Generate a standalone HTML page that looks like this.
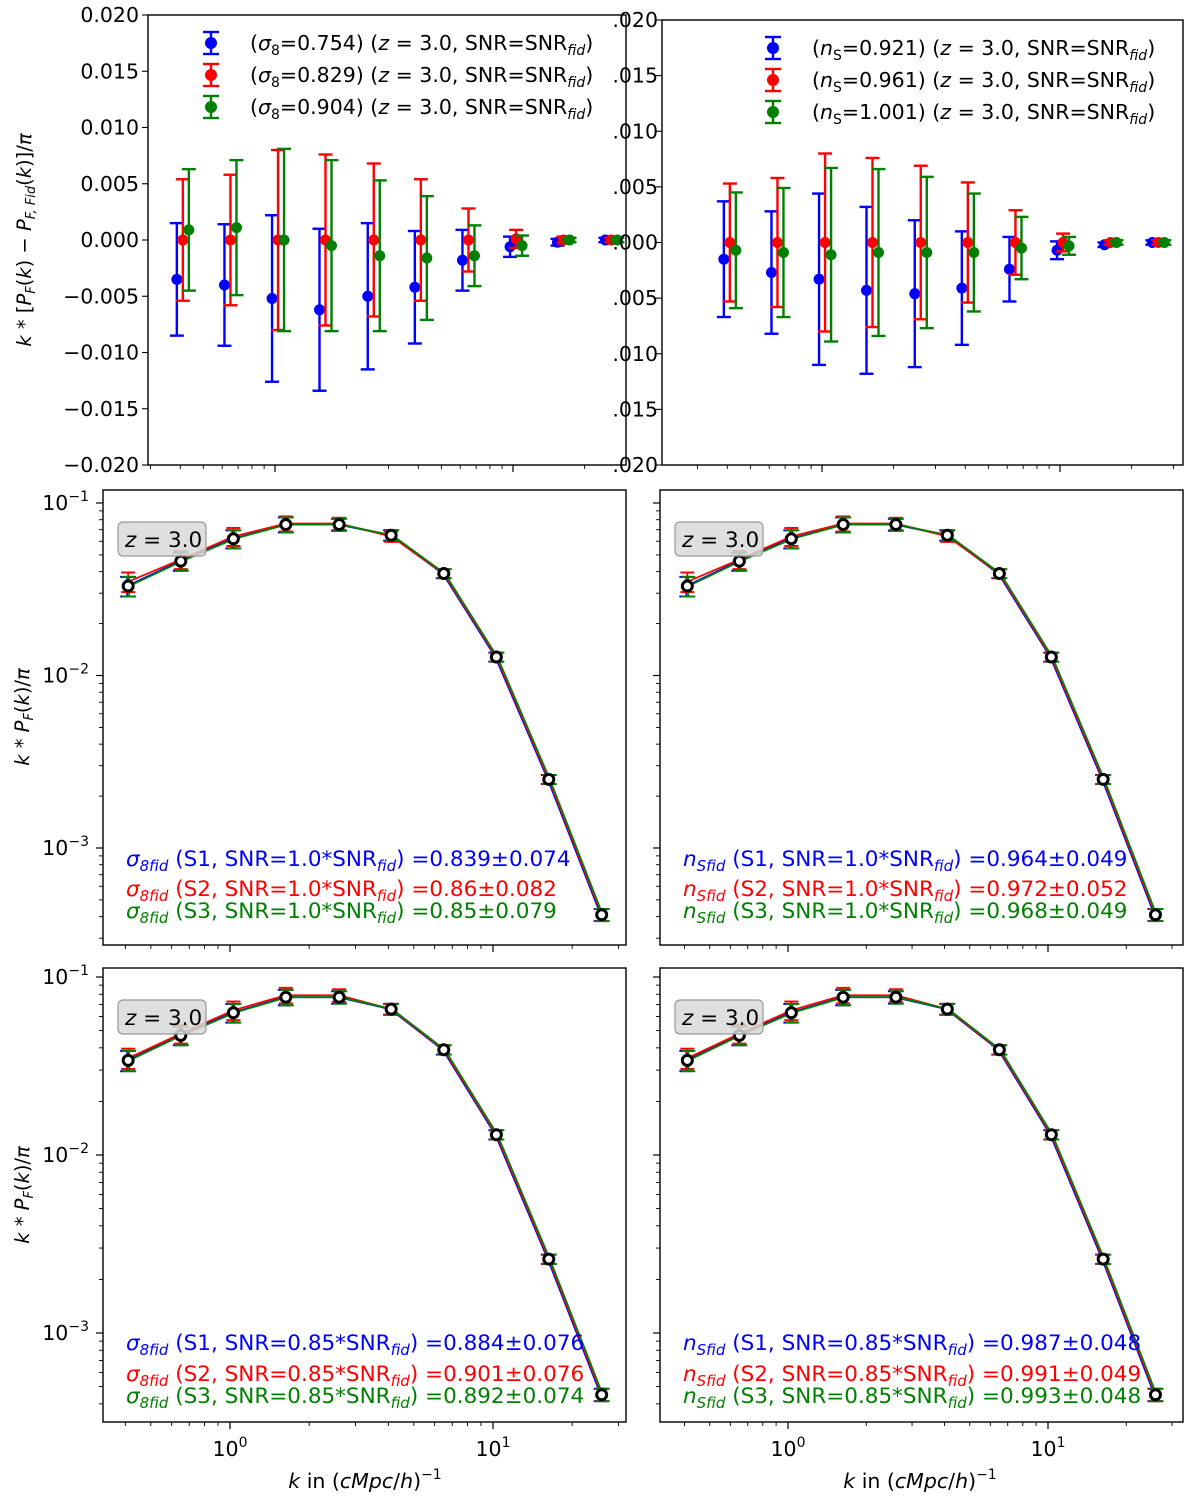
<!DOCTYPE html>
<html><head><meta charset="utf-8"><style>
body{margin:0;background:#fff;}
svg{display:block;font-family:"DejaVu Sans","Liberation Sans",sans-serif;}
</style></head><body>
<svg id="fig" width="1200" height="1503" viewBox="0 0 1200 1503" xmlns="http://www.w3.org/2000/svg">
</svg>
<script>
// ---- data ----
const kVals = [0.41,0.65,1.03,1.63,2.6,4.1,6.5,10.3,16.3,25.9];
const diffS8Blue  = [-0.0035,-0.0040,-0.0052,-0.0062,-0.0050,-0.0042,-0.0018,-0.0006,-0.0002,0];
const diffS8BlueErr = [0.0050,0.0054,0.0074,0.0072,0.0065,0.0050,0.0027,0.0009,0.0003,0.0002];
const diffS8Red   = [0,0,0,0,0,0,0,0.0001,0,0];
const diffS8RedErr = [0.0054,0.0058,0.0080,0.0076,0.0068,0.0054,0.0028,0.0008,0.0003,0.0002];
const diffS8Green = [0.0009,0.0011,0,-0.0005,-0.0014,-0.0016,-0.0014,-0.0005,0,0];
const diffS8GreenErr = [0.0054,0.0060,0.0081,0.0076,0.0067,0.0055,0.0027,0.0009,0.0002,0.0002];
const diffNsBlue  = [-0.0015,-0.0027,-0.0033,-0.0043,-0.0046,-0.0041,-0.0024,-0.0007,-0.0002,0];
const diffNsBlueErr = [0.0052,0.0055,0.0077,0.0075,0.0066,0.0051,0.0029,0.0008,0.0002,0.0002];
const diffNsRed   = [0,0,0,0,0,0,0,0,0,0];
const diffNsRedErr = [0.0053,0.0058,0.0080,0.0076,0.0069,0.0054,0.0029,0.0008,0.0002,0.0002];
const diffNsGreen = [-0.0007,-0.0009,-0.0011,-0.0009,-0.0009,-0.0009,-0.0005,-0.0003,0,0];
const diffNsGreenErr = [0.0052,0.0058,0.0078,0.0075,0.0068,0.0053,0.0028,0.0008,0.0002,0.0002];
const pkMid = [0.033,0.046,0.062,0.075,0.075,0.065,0.039,0.0128,0.0025,0.00041];
const pkMidRed = [0.035,0.047,0.064,0.076,0.076,0.064,0.039,0.0128,0.0025,0.00041];
const pkBot = [0.034,0.047,0.063,0.077,0.077,0.066,0.039,0.013,0.0026,0.00045];
const pkBotRed = [0.035,0.048,0.065,0.079,0.079,0.066,0.039,0.013,0.0026,0.00045];
const pkRelErr = [0.13,0.12,0.12,0.1,0.08,0.07,0.06,0.06,0.06,0.08];
const diffTicks = [0.020,0.015,0.010,0.005,0.000,-0.005,-0.010,-0.015,-0.020];
const midTextS8 = ["(S1, SNR=1.0*SNR","(S2, SNR=1.0*SNR","(S3, SNR=1.0*SNR"];
const midValS8 = ["=0.839±0.074","=0.86±0.082","=0.85±0.079"];
const midValNs = ["=0.964±0.049","=0.972±0.052","=0.968±0.049"];
const botTextS8 = ["(S1, SNR=0.85*SNR","(S2, SNR=0.85*SNR","(S3, SNR=0.85*SNR"];
const botValS8 = ["=0.884±0.076","=0.901±0.076","=0.892±0.074"];
const botValNs = ["=0.987±0.048","=0.991±0.049","=0.993±0.048"];
const legS8 = ["0.754","0.829","0.904"];
const legNs = ["0.921","0.961","1.001"];

const C = ["#0000ff","#ff0000","#008000"];
const svg = document.getElementById('fig');
const NS = "http://www.w3.org/2000/svg";
function el(tag, attrs, parent){const e=document.createElementNS(NS,tag);for(const k in attrs)e.setAttribute(k,attrs[k]);(parent||svg).appendChild(e);return e;}

function makeX(x0, pxPerDec){return k => x0 + pxPerDec*Math.log10(k);}
function xTicks(g, xs, L, R, B){
  for(let d=-1; d<=1; d++){
    for(let m=1;m<=9;m++){
      const v=m*Math.pow(10,d); const x=xs(v);
      if(x<L||x>R) continue;
      el('line',{x1:x,x2:x,y1:B,y2:B+(m===1?7:4),stroke:'#000','stroke-width':m===1?1.2:0.9},g);
    }
  }
}
function frame(g,L,T,R,B){el('rect',{x:L,y:T,width:R-L,height:B-T,fill:'none',stroke:'#000','stroke-width':1.4},g);}

// ---- top diff panels ----
function diffPanel(name,L,T,R,B,x0,dec,blue,be,red,re,green,ge,showLabels,leg,legX,legY,sym){
  const g=el('g',{});
  
  
  const xs=makeX(x0,dec);
  const y0=(T+B)/2, sc=(B-T)/0.04;
  const ys=v=>y0 - v*sc;
  frame(g,L,T,R,B);
  diffTicks.forEach(t=>{
    const y=ys(t);
    el('line',{x1:L-6,x2:L,y1:y,y2:y,stroke:'#000','stroke-width':1.1},g);
    let s=t.toFixed(3).replace('-','−');
    if(!showLabels) s=s.replace('−','').replace(/^0/,'');
    const tx=el('text',{x:showLabels?L-9:L-4,y:y+7,'text-anchor':'end','font-size':20.5},g);
    tx.textContent=s;
  });
  xTicks(g,xs,L,R,B);
  const series=[[blue,be,-6],[red,re,0],[green,ge,6]];
  series.forEach((s,si)=>{
    kVals.forEach((k,i)=>{
      const x=xs(k)+s[2], yv=ys(s[0][i]), yt=ys(s[0][i]+s[1][i]), yb=ys(s[0][i]-s[1][i]);
      const eb=el('line',{x1:x,x2:x,y1:yt,y2:yb,stroke:C[si],'stroke-width':2.4},g);
      
      
      el('line',{x1:x-7,x2:x+7,y1:yt,y2:yt,stroke:C[si],'stroke-width':2.4},g);
      el('line',{x1:x-7,x2:x+7,y1:yb,y2:yb,stroke:C[si],'stroke-width':2.4},g);
      const p=el('circle',{cx:x,cy:yv,r:5.5,fill:C[si]},g);
      
      
    });
  });
  leg.forEach((v,i)=>{
    const y=legY+i*32;
    const lg=el('g',{},g);
    
    
    el('line',{x1:legX,x2:legX,y1:y-11,y2:y+11,stroke:C[i],'stroke-width':2.4},lg);
    el('line',{x1:legX-8,x2:legX+8,y1:y-11,y2:y-11,stroke:C[i],'stroke-width':2.4},lg);
    el('line',{x1:legX-8,x2:legX+8,y1:y+11,y2:y+11,stroke:C[i],'stroke-width':2.4},lg);
    el('circle',{cx:legX,cy:y,r:6,fill:C[i]},lg);
    const t=el('text',{x:legX+39,y:y+7,'font-size':20.5},lg);
    t.innerHTML='(<tspan font-style="italic">'+sym[0]+'</tspan><tspan font-size="14" dy="5">'+sym[1]+'</tspan><tspan dy="-5">='+v+') (</tspan><tspan font-style="italic">z</tspan> = 3.0, SNR=SNR<tspan font-size="14" dy="5" font-style="italic">fid</tspan><tspan dy="-5">)</tspan>';
  });
}
diffPanel('top-left-panel',148,15,626,465,275,238,diffS8Blue,diffS8BlueErr,diffS8Red,diffS8RedErr,diffS8Green,diffS8GreenErr,true,legS8,211,43,['σ','8']);
diffPanel('top-right-panel',662,20,1183,465,822,238,diffNsBlue,diffNsBlueErr,diffNsRed,diffNsRedErr,diffNsGreen,diffNsGreenErr,false,legNs,773,48,['n','S']);

// ---- P(k) panels ----
function pkPanel(name,L,T,R,B,x0,dec,yTop,perDec,vals,valsRed,showLabels,sym,texts,valsTxt,textX,textY){
  const g=el('g',{});
  
  
  const xs=makeX(x0,dec);
  const ys=v=>yTop - perDec*(Math.log10(v)+1);
  frame(g,L,T,R,B);
  for(let d=-4;d<=-1;d++){
    for(let m=1;m<=9;m++){
      const v=m*Math.pow(10,d), y=ys(v);
      if(y<T-1||y>B) continue;
      el('line',{x1:L-(m===1?7:4),x2:L,y1:y,y2:y,stroke:'#000','stroke-width':m===1?1.2:0.9},g);
      if(m===1&&showLabels){
        const t=el('text',{x:L-14,y:y+7,'text-anchor':'end','font-size':20.5},g);
        t.innerHTML='10<tspan font-size="14" dy="-9">−'+(-d)+'</tspan>';
      }
    }
  }
  xTicks(g,xs,L,R,B);
  const sets=[vals,valsRed,vals];
  const off=[-1,0,1];
  sets.forEach((s,si)=>{
    const pts=kVals.map((k,i)=>(xs(k)+off[si])+','+ys(s[i])).join(' ');
    const pl=el('polyline',{points:pts,fill:'none',stroke:C[si],'stroke-width':1.8},g);
    
    
    kVals.forEach((k,i)=>{
      const x=xs(k)+off[si], yt=ys(s[i]*(1+pkRelErr[i])), yb=ys(s[i]*(1-pkRelErr[i]));
      el('line',{x1:x,x2:x,y1:yt,y2:yb,stroke:C[si],'stroke-width':1.8},g);
      el('line',{x1:x-7,x2:x+7,y1:yt,y2:yt,stroke:C[si],'stroke-width':2},g);
      el('line',{x1:x-7,x2:x+7,y1:yb,y2:yb,stroke:C[si],'stroke-width':2},g);
    });
  });
  kVals.forEach((k,i)=>{
    const p=el('circle',{cx:xs(k),cy:ys(vals[i]),r:5,fill:'#fff',stroke:'#000','stroke-width':3},g);
    
    
  });
  const zb=el('g',{},g);
  
  
  el('rect',{x:L+15,y:T+32,width:88,height:34,rx:5,fill:'#d9d9d9','fill-opacity':0.85,stroke:'#999','stroke-width':1.2},zb);
  const zt=el('text',{x:L+22,y:T+57,'font-size':21.5},zb);
  zt.innerHTML='<tspan font-style="italic">z</tspan> = 3.0';
  texts.forEach((s,i)=>{
    const t=el('text',{x:textX,y:textY[i],'font-size':21.5,fill:C[i]},g);
    
    
    t.innerHTML='<tspan font-style="italic">'+sym[0]+'</tspan><tspan font-size="15" dy="5" font-style="italic">'+sym[1]+'</tspan><tspan dy="-5"> '+s+'</tspan><tspan font-size="15" dy="5" font-style="italic">fid</tspan><tspan dy="-5">) '+valsTxt[i]+'</tspan>';
  });
}
pkPanel('middle-left-panel',103,490,626,945,230,263,503,172.5,pkMid,pkMidRed,true,['σ','8fid'],midTextS8,midValS8,126,[866,896,918]);
pkPanel('middle-right-panel',660,490,1183,945,788,260,503,172.5,pkMid,pkMidRed,false,['n','Sfid'],midTextS8,midValNs,683,[866,896,918]);
pkPanel('bottom-left-panel',103,968,626,1422,230,263,977,178,pkBot,pkBotRed,true,['σ','8fid'],botTextS8,botValS8,126,[1350,1381,1403]);
pkPanel('bottom-right-panel',660,968,1183,1422,788,260,977,178,pkBot,pkBotRed,false,['n','Sfid'],botTextS8,botValNs,683,[1350,1381,1403]);

[[230,'0'],[493,'1'],[788,'0'],[1048,'1']].forEach(a=>{
  const t=el('text',{x:a[0],y:1456,'text-anchor':'middle','font-size':20.5});
  
  
  t.innerHTML='10<tspan font-size="14" dy="-9">'+a[1]+'</tspan>';
});
[365,920].forEach(x=>{
  const t=el('text',{x:x,y:1488,'text-anchor':'middle','font-size':20.5});
  
  
  t.innerHTML='<tspan font-style="italic">k</tspan> in (<tspan font-style="italic">cMpc</tspan>/<tspan font-style="italic">h</tspan>)<tspan font-size="14" dy="-9">−1</tspan>';
});
const yt1=el('text',{x:0,y:0,'text-anchor':'middle','font-size':19.5,transform:'translate(31,240) rotate(-90)'});


yt1.innerHTML='<tspan font-style="italic">k</tspan> * [<tspan font-style="italic">P</tspan><tspan font-size="13" dy="4" font-style="italic">F</tspan><tspan dy="-4">(</tspan><tspan font-style="italic">k</tspan>) − <tspan font-style="italic">P</tspan><tspan font-size="13" dy="4" font-style="italic">F, Fid</tspan><tspan dy="-4">(</tspan><tspan font-style="italic">k</tspan>)]/<tspan font-style="italic">π</tspan>';
[717,1195].forEach(y=>{
  const t=el('text',{x:0,y:0,'text-anchor':'middle','font-size':19.5,transform:'translate(29,'+y+') rotate(-90)'});
  
  
  t.innerHTML='<tspan font-style="italic">k</tspan> * <tspan font-style="italic">P</tspan><tspan font-size="13" dy="4" font-style="italic">F</tspan><tspan dy="-4">(</tspan><tspan font-style="italic">k</tspan>)/<tspan font-style="italic">π</tspan>';
});
</script>
</body></html>
